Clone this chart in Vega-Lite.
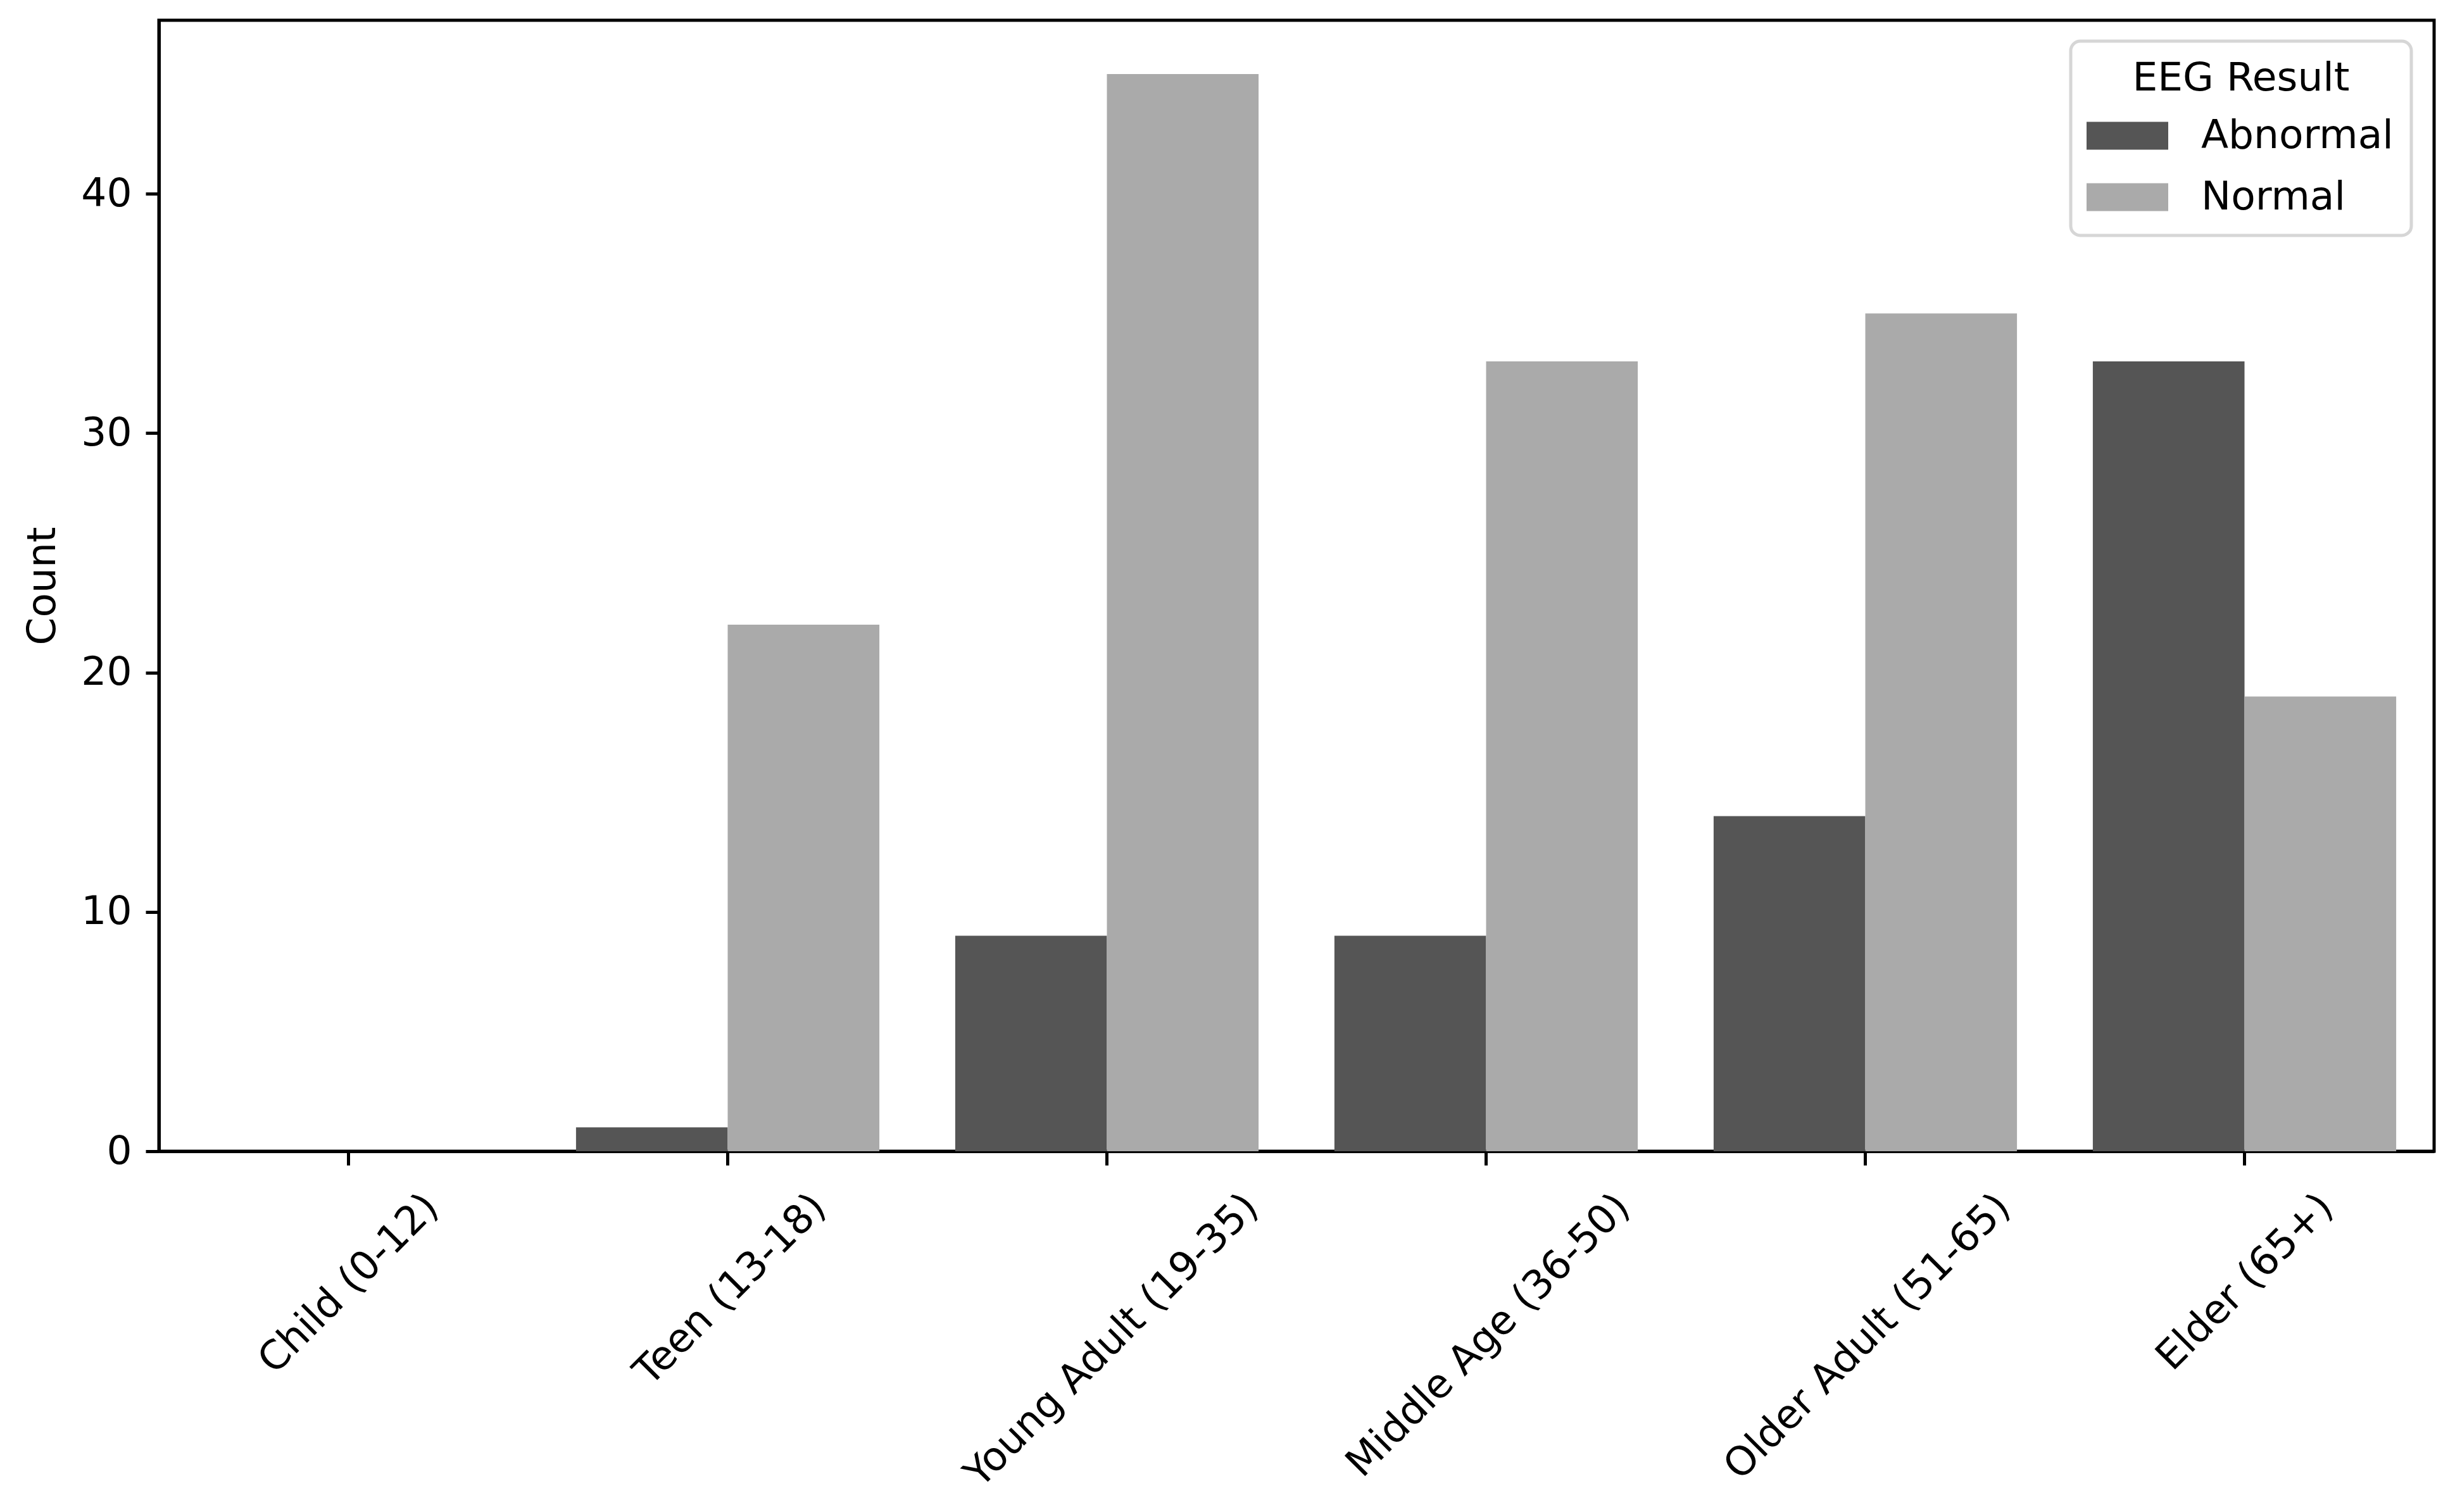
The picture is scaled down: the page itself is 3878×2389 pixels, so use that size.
{
  "$schema": "https://vega.github.io/schema/vega-lite/v6.json",
  "width": 3594,
  "height": 1787,
  "autosize": {"type": "none"},
  "padding": {"left": 251, "top": 32, "right": 33, "bottom": 570},
  "background": "white",
  "config": {
    "font": "DejaVu Sans",
    "view": {"stroke": "black", "strokeWidth": 5},
    "legend": {"strokeWidth": 5},
    "axis": {
      "grid": false,
      "domainColor": "black",
      "domainWidth": 5,
      "tickColor": "black",
      "tickWidth": 5,
      "labelColor": "black",
      "labelFontSize": 63,
      "labelLimit": 1000,
      "titleColor": "black",
      "titleFontSize": 63,
      "titleFontWeight": "normal"
    }
  },
  "data": {
    "values": [
      {"age_group": "Child (0-12)", "eeg_result": "Abnormal", "count": 0},
      {"age_group": "Child (0-12)", "eeg_result": "Normal", "count": 0},
      {"age_group": "Teen (13-18)", "eeg_result": "Abnormal", "count": 1},
      {"age_group": "Teen (13-18)", "eeg_result": "Normal", "count": 22},
      {"age_group": "Young Adult (19-35)", "eeg_result": "Abnormal", "count": 9},
      {"age_group": "Young Adult (19-35)", "eeg_result": "Normal", "count": 45},
      {"age_group": "Middle Age (36-50)", "eeg_result": "Abnormal", "count": 9},
      {"age_group": "Middle Age (36-50)", "eeg_result": "Normal", "count": 33},
      {"age_group": "Older Adult (51-65)", "eeg_result": "Abnormal", "count": 14},
      {"age_group": "Older Adult (51-65)", "eeg_result": "Normal", "count": 35},
      {"age_group": "Elder (65+)", "eeg_result": "Abnormal", "count": 33},
      {"age_group": "Elder (65+)", "eeg_result": "Normal", "count": 19}
    ]
  },
  "mark": {"type": "bar"},
  "encoding": {
    "x": {
      "field": "age_group",
      "type": "nominal",
      "sort": ["Child (0-12)", "Teen (13-18)", "Young Adult (19-35)", "Middle Age (36-50)", "Older Adult (51-65)", "Elder (65+)"],
      "scale": {"paddingInner": 0.2, "paddingOuter": 0.1},
      "axis": {
        "title": null,
        "labelAngle": -45,
        "labelAlign": "right",
        "labelBaseline": "top",
        "labelOverlap": false,
        "labelPadding": 34,
        "tickSize": 22,
        "labelOffset": {
          "condition": [
            {"test": "datum.value === 'Child (0-12)'", "value": 110},
            {"test": "datum.value === 'Teen (13-18)'", "value": 123},
            {"test": "datum.value === 'Young Adult (19-35)'", "value": 207},
            {"test": "datum.value === 'Middle Age (36-50)'", "value": 195},
            {"test": "datum.value === 'Older Adult (51-65)'", "value": 197},
            {"test": "datum.value === 'Elder (65+)'", "value": 108}
          ],
          "value": 0
        }
      }
    },
    "xOffset": {"field": "eeg_result", "type": "nominal", "sort": ["Abnormal", "Normal"]},
    "y": {
      "field": "count",
      "type": "quantitative",
      "scale": {"domain": [0, 47.25], "nice": false},
      "axis": {
        "title": "Count",
        "values": [0, 10, 20, 30, 40],
        "tickSize": 21,
        "labelPadding": 22,
        "titlePadding": 28
      }
    },
    "color": {
      "field": "eeg_result",
      "type": "nominal",
      "scale": {"domain": ["Abnormal", "Normal"], "range": ["#555555", "#aaaaaa"]},
      "legend": {
        "orient": "none",
        "legendX": 3020,
        "legendY": 33,
        "title": "EEG Result",
        "titleFontSize": 63,
        "titleFontWeight": "normal",
        "titleColor": "black",
        "titleAnchor": "middle",
        "titlePadding": 27,
        "titleLimit": 1000,
        "labelFontSize": 63,
        "labelColor": "black",
        "labelLimit": 1000,
        "labelOffset": 85,
        "symbolType": "M-2.932,-1H2.932V1H-2.932Z",
        "symbolSize": 1936,
        "symbolOffset": 30,
        "symbolStrokeWidth": 0,
        "symbolOpacity": 1,
        "rowPadding": 33,
        "padding": 28,
        "fillColor": "white",
        "strokeColor": "#d6d6d6",
        "cornerRadius": 15
      }
    }
  }
}
